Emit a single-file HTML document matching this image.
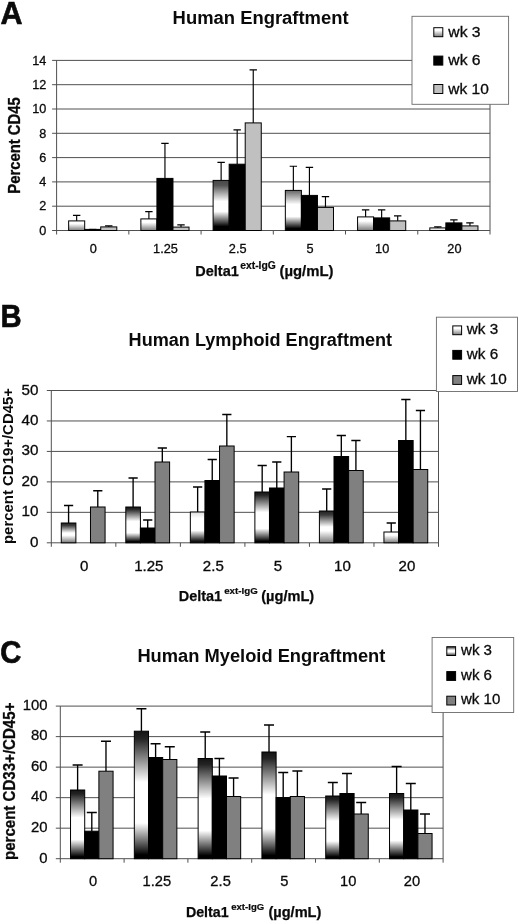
<!DOCTYPE html>
<html><head><meta charset="utf-8"><title>Figure</title>
<style>html,body{margin:0;padding:0;background:#fff}svg{display:block}</style></head>
<body>
<svg width="520" height="923" viewBox="0 0 520 923" font-family="'Liberation Sans', Arial, Helvetica, sans-serif" fill="#0a0a0a">
<defs>
<linearGradient id="gd" x1="0" y1="0" x2="0" y2="1"><stop offset="0" stop-color="#141414"/><stop offset="0.06" stop-color="#242424"/><stop offset="0.4" stop-color="#fff"/><stop offset="0.72" stop-color="#fff"/><stop offset="0.97" stop-color="#000"/><stop offset="1" stop-color="#000"/></linearGradient>
<linearGradient id="ga" x1="0" y1="0" x2="0" y2="1"><stop offset="0" stop-color="#484848"/><stop offset="0.1" stop-color="#555"/><stop offset="0.42" stop-color="#fff"/><stop offset="0.62" stop-color="#fff"/><stop offset="0.92" stop-color="#000"/><stop offset="1" stop-color="#000"/></linearGradient>
<linearGradient id="gm" x1="0" y1="0" x2="0" y2="1"><stop offset="0" stop-color="#666"/><stop offset="0.35" stop-color="#fff"/><stop offset="0.65" stop-color="#fff"/><stop offset="0.95" stop-color="#000"/><stop offset="1" stop-color="#000"/></linearGradient>
<linearGradient id="gl" x1="0" y1="0" x2="0" y2="1"><stop offset="0" stop-color="#ddd"/><stop offset="0.2" stop-color="#fff"/><stop offset="0.6" stop-color="#fff"/><stop offset="0.95" stop-color="#111"/><stop offset="1" stop-color="#111"/></linearGradient>
<linearGradient id="gg" x1="0" y1="0" x2="0" y2="1"><stop offset="0" stop-color="#222"/><stop offset="0.12" stop-color="#3a3a3a"/><stop offset="0.5" stop-color="#fff"/><stop offset="0.62" stop-color="#fff"/><stop offset="1" stop-color="#787878"/></linearGradient>
<linearGradient id="gs" x1="0" y1="0" x2="0" y2="1"><stop offset="0" stop-color="#fff"/><stop offset="0.3" stop-color="#fff"/><stop offset="1" stop-color="#7c7c7c"/></linearGradient>
<linearGradient id="gt" x1="0" y1="0" x2="0" y2="1"><stop offset="0" stop-color="#fff"/><stop offset="1" stop-color="#d8d8d8"/></linearGradient>
<linearGradient id="gw" x1="0" y1="0" x2="0" y2="1"><stop offset="0" stop-color="#222"/><stop offset="0.4" stop-color="#fff"/><stop offset="0.6" stop-color="#fff"/><stop offset="1" stop-color="#333"/></linearGradient>
</defs>
<rect width="520" height="923" fill="#fff"/>
<text transform="translate(0.50 23.80)" font-size="30.5" font-weight="bold" stroke="#0a0a0a" stroke-width="0.6">A</text>
<text transform="translate(0.50 327.00) scale(0.96 1)" font-size="30.5" font-weight="bold" stroke="#0a0a0a" stroke-width="0.6">B</text>
<text transform="translate(0.30 662.50) scale(0.96 1)" font-size="30.5" font-weight="bold" stroke="#0a0a0a" stroke-width="0.6">C</text>
<text transform="translate(172.60 23.60)" font-size="18" font-weight="bold" textLength="176" lengthAdjust="spacingAndGlyphs">Human Engraftment</text>
<text transform="translate(128.60 346.00)" font-size="18" font-weight="bold" textLength="263.5" lengthAdjust="spacingAndGlyphs">Human Lymphoid Engraftment</text>
<text transform="translate(137.40 662.30)" font-size="18" font-weight="bold" textLength="248" lengthAdjust="spacingAndGlyphs">Human Myeloid Engraftment</text>
<line x1="52.10" y1="230.50" x2="490.00" y2="230.50" stroke="#505050" stroke-width="1"/>
<text transform="translate(46.30 234.70) scale(0.975 1)" font-size="13" text-anchor="end" stroke="#0a0a0a" stroke-width="0.3">0</text>
<line x1="52.10" y1="206.20" x2="490.00" y2="206.20" stroke="#505050" stroke-width="1"/>
<text transform="translate(46.30 210.40) scale(0.975 1)" font-size="13" text-anchor="end" stroke="#0a0a0a" stroke-width="0.3">2</text>
<line x1="52.10" y1="181.90" x2="490.00" y2="181.90" stroke="#505050" stroke-width="1"/>
<text transform="translate(46.30 186.10) scale(0.975 1)" font-size="13" text-anchor="end" stroke="#0a0a0a" stroke-width="0.3">4</text>
<line x1="52.10" y1="157.60" x2="490.00" y2="157.60" stroke="#505050" stroke-width="1"/>
<text transform="translate(46.30 161.80) scale(0.975 1)" font-size="13" text-anchor="end" stroke="#0a0a0a" stroke-width="0.3">6</text>
<line x1="52.10" y1="133.30" x2="490.00" y2="133.30" stroke="#505050" stroke-width="1"/>
<text transform="translate(46.30 137.50) scale(0.975 1)" font-size="13" text-anchor="end" stroke="#0a0a0a" stroke-width="0.3">8</text>
<line x1="52.10" y1="109.00" x2="490.00" y2="109.00" stroke="#505050" stroke-width="1"/>
<text transform="translate(46.30 113.20) scale(0.975 1)" font-size="13" text-anchor="end" stroke="#0a0a0a" stroke-width="0.3">10</text>
<line x1="52.10" y1="84.70" x2="490.00" y2="84.70" stroke="#505050" stroke-width="1"/>
<text transform="translate(46.30 88.90) scale(0.975 1)" font-size="13" text-anchor="end" stroke="#0a0a0a" stroke-width="0.3">12</text>
<line x1="52.10" y1="60.40" x2="490.00" y2="60.40" stroke="#505050" stroke-width="1"/>
<text transform="translate(46.30 64.60) scale(0.975 1)" font-size="13" text-anchor="end" stroke="#0a0a0a" stroke-width="0.3">14</text>
<line x1="56.60" y1="60.40" x2="56.60" y2="234.50" stroke="#505050" stroke-width="1"/>
<line x1="490.00" y1="60.40" x2="490.00" y2="234.50" stroke="#505050" stroke-width="1"/>
<line x1="128.83" y1="230.50" x2="128.83" y2="234.50" stroke="#505050" stroke-width="1"/>
<line x1="201.07" y1="230.50" x2="201.07" y2="234.50" stroke="#505050" stroke-width="1"/>
<line x1="273.30" y1="230.50" x2="273.30" y2="234.50" stroke="#505050" stroke-width="1"/>
<line x1="345.53" y1="230.50" x2="345.53" y2="234.50" stroke="#505050" stroke-width="1"/>
<line x1="417.77" y1="230.50" x2="417.77" y2="234.50" stroke="#505050" stroke-width="1"/>
<path d="M76.66 220.90V215.40M72.96 215.40H80.36" stroke="#000" stroke-width="1.15" fill="none"/>
<rect x="68.64" y="220.90" width="16.05" height="9.60" fill="url(#gs)" stroke="#000" stroke-width="1"/>
<path d="M92.72 229.40V229.40M89.02 229.40H96.42" stroke="#000" stroke-width="1.15" fill="none"/>
<rect x="84.69" y="229.40" width="16.05" height="1.10" fill="#000" stroke="#000" stroke-width="1"/>
<path d="M108.77 226.90V225.90M105.07 225.90H112.47" stroke="#000" stroke-width="1.15" fill="none"/>
<rect x="100.74" y="226.90" width="16.05" height="3.60" fill="#c0c0c0" stroke="#000" stroke-width="1"/>
<path d="M148.90 218.90V211.60M145.20 211.60H152.60" stroke="#000" stroke-width="1.15" fill="none"/>
<rect x="140.87" y="218.90" width="16.05" height="11.60" fill="url(#gs)" stroke="#000" stroke-width="1"/>
<path d="M164.95 178.40V143.40M161.25 143.40H168.65" stroke="#000" stroke-width="1.15" fill="none"/>
<rect x="156.92" y="178.40" width="16.05" height="52.10" fill="#000" stroke="#000" stroke-width="1"/>
<path d="M181.00 227.10V224.90M177.30 224.90H184.70" stroke="#000" stroke-width="1.15" fill="none"/>
<rect x="172.98" y="227.10" width="16.05" height="3.40" fill="#c0c0c0" stroke="#000" stroke-width="1"/>
<path d="M221.13 180.40V162.40M217.43 162.40H224.83" stroke="#000" stroke-width="1.15" fill="none"/>
<rect x="213.11" y="180.40" width="16.05" height="50.10" fill="url(#ga)" stroke="#000" stroke-width="1"/>
<path d="M237.18 164.20V129.90M233.48 129.90H240.88" stroke="#000" stroke-width="1.15" fill="none"/>
<rect x="229.16" y="164.20" width="16.05" height="66.30" fill="#000" stroke="#000" stroke-width="1"/>
<path d="M253.24 122.90V69.90M249.54 69.90H256.94" stroke="#000" stroke-width="1.15" fill="none"/>
<rect x="245.21" y="122.90" width="16.05" height="107.60" fill="#c0c0c0" stroke="#000" stroke-width="1"/>
<path d="M293.36 190.40V166.20M289.66 166.20H297.06" stroke="#000" stroke-width="1.15" fill="none"/>
<rect x="285.34" y="190.40" width="16.05" height="40.10" fill="url(#gm)" stroke="#000" stroke-width="1"/>
<path d="M309.42 195.40V167.40M305.72 167.40H313.12" stroke="#000" stroke-width="1.15" fill="none"/>
<rect x="301.39" y="195.40" width="16.05" height="35.10" fill="#000" stroke="#000" stroke-width="1"/>
<path d="M325.47 207.40V196.60M321.77 196.60H329.17" stroke="#000" stroke-width="1.15" fill="none"/>
<rect x="317.44" y="207.40" width="16.05" height="23.10" fill="#c0c0c0" stroke="#000" stroke-width="1"/>
<path d="M365.60 216.90V209.90M361.90 209.90H369.30" stroke="#000" stroke-width="1.15" fill="none"/>
<rect x="357.57" y="216.90" width="16.05" height="13.60" fill="url(#gs)" stroke="#000" stroke-width="1"/>
<path d="M381.65 217.90V209.90M377.95 209.90H385.35" stroke="#000" stroke-width="1.15" fill="none"/>
<rect x="373.62" y="217.90" width="16.05" height="12.60" fill="#000" stroke="#000" stroke-width="1"/>
<path d="M397.70 220.90V215.90M394.00 215.90H401.40" stroke="#000" stroke-width="1.15" fill="none"/>
<rect x="389.68" y="220.90" width="16.05" height="9.60" fill="#c0c0c0" stroke="#000" stroke-width="1"/>
<path d="M437.83 227.90V226.90M434.13 226.90H441.53" stroke="#000" stroke-width="1.15" fill="none"/>
<rect x="429.81" y="227.90" width="16.05" height="2.60" fill="url(#gt)" stroke="#000" stroke-width="1"/>
<path d="M453.88 222.90V219.90M450.18 219.90H457.58" stroke="#000" stroke-width="1.15" fill="none"/>
<rect x="445.86" y="222.90" width="16.05" height="7.60" fill="#000" stroke="#000" stroke-width="1"/>
<path d="M469.94 225.90V222.90M466.24 222.90H473.64" stroke="#000" stroke-width="1.15" fill="none"/>
<rect x="461.91" y="225.90" width="16.05" height="4.60" fill="#c0c0c0" stroke="#000" stroke-width="1"/>
<text transform="translate(93.22 253.30) scale(0.98 1)" font-size="13" text-anchor="middle" stroke="#0a0a0a" stroke-width="0.3">0</text>
<text transform="translate(165.45 253.30) scale(0.98 1)" font-size="13" text-anchor="middle" stroke="#0a0a0a" stroke-width="0.3">1.25</text>
<text transform="translate(237.68 253.30) scale(0.98 1)" font-size="13" text-anchor="middle" stroke="#0a0a0a" stroke-width="0.3">2.5</text>
<text transform="translate(309.92 253.30) scale(0.98 1)" font-size="13" text-anchor="middle" stroke="#0a0a0a" stroke-width="0.3">5</text>
<text transform="translate(382.15 253.30) scale(0.98 1)" font-size="13" text-anchor="middle" stroke="#0a0a0a" stroke-width="0.3">10</text>
<text transform="translate(454.38 253.30) scale(0.98 1)" font-size="13" text-anchor="middle" stroke="#0a0a0a" stroke-width="0.3">20</text>
<line x1="46.80" y1="542.80" x2="438.50" y2="542.80" stroke="#505050" stroke-width="1"/>
<text transform="translate(38.40 546.80) scale(1.05 1)" font-size="14.5" text-anchor="end" stroke="#0a0a0a" stroke-width="0.3">0</text>
<line x1="46.80" y1="512.34" x2="438.50" y2="512.34" stroke="#505050" stroke-width="1"/>
<text transform="translate(38.40 516.34) scale(1.05 1)" font-size="14.5" text-anchor="end" stroke="#0a0a0a" stroke-width="0.3">10</text>
<line x1="46.80" y1="481.88" x2="438.50" y2="481.88" stroke="#505050" stroke-width="1"/>
<text transform="translate(38.40 485.88) scale(1.05 1)" font-size="14.5" text-anchor="end" stroke="#0a0a0a" stroke-width="0.3">20</text>
<line x1="46.80" y1="451.42" x2="438.50" y2="451.42" stroke="#505050" stroke-width="1"/>
<text transform="translate(38.40 455.42) scale(1.05 1)" font-size="14.5" text-anchor="end" stroke="#0a0a0a" stroke-width="0.3">30</text>
<line x1="46.80" y1="420.96" x2="438.50" y2="420.96" stroke="#505050" stroke-width="1"/>
<text transform="translate(38.40 424.96) scale(1.05 1)" font-size="14.5" text-anchor="end" stroke="#0a0a0a" stroke-width="0.3">40</text>
<line x1="46.80" y1="390.50" x2="438.50" y2="390.50" stroke="#505050" stroke-width="1"/>
<text transform="translate(38.40 394.50) scale(1.05 1)" font-size="14.5" text-anchor="end" stroke="#0a0a0a" stroke-width="0.3">50</text>
<line x1="51.30" y1="390.50" x2="51.30" y2="546.80" stroke="#505050" stroke-width="1"/>
<line x1="438.50" y1="390.50" x2="438.50" y2="546.80" stroke="#505050" stroke-width="1"/>
<line x1="115.83" y1="542.80" x2="115.83" y2="546.80" stroke="#505050" stroke-width="1"/>
<line x1="180.37" y1="542.80" x2="180.37" y2="546.80" stroke="#505050" stroke-width="1"/>
<line x1="244.90" y1="542.80" x2="244.90" y2="546.80" stroke="#505050" stroke-width="1"/>
<line x1="309.43" y1="542.80" x2="309.43" y2="546.80" stroke="#505050" stroke-width="1"/>
<line x1="373.97" y1="542.80" x2="373.97" y2="546.80" stroke="#505050" stroke-width="1"/>
<path d="M68.58 523.00V505.50M63.98 505.50H73.18" stroke="#000" stroke-width="1.35" fill="none"/>
<rect x="61.28" y="523.00" width="14.60" height="19.80" fill="url(#gg)" stroke="#000" stroke-width="1"/>
<path d="M97.78 507.00V490.70M93.18 490.70H102.38" stroke="#000" stroke-width="1.35" fill="none"/>
<rect x="90.48" y="507.00" width="14.60" height="35.80" fill="#808080" stroke="#000" stroke-width="1"/>
<path d="M133.11 507.00V478.00M128.51 478.00H137.71" stroke="#000" stroke-width="1.35" fill="none"/>
<rect x="125.81" y="507.00" width="14.60" height="35.80" fill="url(#gd)" stroke="#000" stroke-width="1"/>
<path d="M147.71 528.00V520.00M143.11 520.00H152.31" stroke="#000" stroke-width="1.35" fill="none"/>
<rect x="140.41" y="528.00" width="14.60" height="14.80" fill="#000" stroke="#000" stroke-width="1"/>
<path d="M162.31 462.00V448.00M157.71 448.00H166.91" stroke="#000" stroke-width="1.35" fill="none"/>
<rect x="155.01" y="462.00" width="14.60" height="80.80" fill="#808080" stroke="#000" stroke-width="1"/>
<path d="M197.64 512.00V487.00M193.04 487.00H202.24" stroke="#000" stroke-width="1.35" fill="none"/>
<rect x="190.34" y="512.00" width="14.60" height="30.80" fill="url(#gl)" stroke="#000" stroke-width="1"/>
<path d="M212.24 480.50V459.50M207.64 459.50H216.84" stroke="#000" stroke-width="1.35" fill="none"/>
<rect x="204.94" y="480.50" width="14.60" height="62.30" fill="#000" stroke="#000" stroke-width="1"/>
<path d="M226.84 446.00V414.50M222.24 414.50H231.44" stroke="#000" stroke-width="1.35" fill="none"/>
<rect x="219.54" y="446.00" width="14.60" height="96.80" fill="#808080" stroke="#000" stroke-width="1"/>
<path d="M262.18 492.00V465.50M257.58 465.50H266.78" stroke="#000" stroke-width="1.35" fill="none"/>
<rect x="254.88" y="492.00" width="14.60" height="50.80" fill="url(#gd)" stroke="#000" stroke-width="1"/>
<path d="M276.78 488.00V462.00M272.18 462.00H281.38" stroke="#000" stroke-width="1.35" fill="none"/>
<rect x="269.48" y="488.00" width="14.60" height="54.80" fill="#000" stroke="#000" stroke-width="1"/>
<path d="M291.38 472.00V436.60M286.78 436.60H295.98" stroke="#000" stroke-width="1.35" fill="none"/>
<rect x="284.08" y="472.00" width="14.60" height="70.80" fill="#808080" stroke="#000" stroke-width="1"/>
<path d="M326.71 511.00V489.00M322.11 489.00H331.31" stroke="#000" stroke-width="1.35" fill="none"/>
<rect x="319.41" y="511.00" width="14.60" height="31.80" fill="url(#gg)" stroke="#000" stroke-width="1"/>
<path d="M341.31 456.50V435.50M336.71 435.50H345.91" stroke="#000" stroke-width="1.35" fill="none"/>
<rect x="334.01" y="456.50" width="14.60" height="86.30" fill="#000" stroke="#000" stroke-width="1"/>
<path d="M355.91 470.50V440.50M351.31 440.50H360.51" stroke="#000" stroke-width="1.35" fill="none"/>
<rect x="348.61" y="470.50" width="14.60" height="72.30" fill="#808080" stroke="#000" stroke-width="1"/>
<path d="M391.24 532.00V523.00M386.64 523.00H395.84" stroke="#000" stroke-width="1.35" fill="none"/>
<rect x="383.94" y="532.00" width="14.60" height="10.80" fill="url(#gs)" stroke="#000" stroke-width="1"/>
<path d="M405.84 440.50V399.50M401.24 399.50H410.44" stroke="#000" stroke-width="1.35" fill="none"/>
<rect x="398.54" y="440.50" width="14.60" height="102.30" fill="#000" stroke="#000" stroke-width="1"/>
<path d="M420.44 469.50V410.50M415.84 410.50H425.04" stroke="#000" stroke-width="1.35" fill="none"/>
<rect x="413.14" y="469.50" width="14.60" height="73.30" fill="#808080" stroke="#000" stroke-width="1"/>
<text transform="translate(84.27 570.80) scale(1.04 1)" font-size="14.5" text-anchor="middle" stroke="#0a0a0a" stroke-width="0.3">0</text>
<text transform="translate(148.80 570.80) scale(1.04 1)" font-size="14.5" text-anchor="middle" stroke="#0a0a0a" stroke-width="0.3">1.25</text>
<text transform="translate(213.33 570.80) scale(1.04 1)" font-size="14.5" text-anchor="middle" stroke="#0a0a0a" stroke-width="0.3">2.5</text>
<text transform="translate(277.87 570.80) scale(1.04 1)" font-size="14.5" text-anchor="middle" stroke="#0a0a0a" stroke-width="0.3">5</text>
<text transform="translate(342.40 570.80) scale(1.04 1)" font-size="14.5" text-anchor="middle" stroke="#0a0a0a" stroke-width="0.3">10</text>
<text transform="translate(406.93 570.80) scale(1.04 1)" font-size="14.5" text-anchor="middle" stroke="#0a0a0a" stroke-width="0.3">20</text>
<line x1="55.80" y1="858.70" x2="443.10" y2="858.70" stroke="#505050" stroke-width="1"/>
<text transform="translate(47.50 862.50) scale(0.96 1)" font-size="15.5" text-anchor="end" stroke="#0a0a0a" stroke-width="0.3">0</text>
<line x1="55.80" y1="828.18" x2="443.10" y2="828.18" stroke="#505050" stroke-width="1"/>
<text transform="translate(47.50 831.98) scale(0.96 1)" font-size="15.5" text-anchor="end" stroke="#0a0a0a" stroke-width="0.3">20</text>
<line x1="55.80" y1="797.66" x2="443.10" y2="797.66" stroke="#505050" stroke-width="1"/>
<text transform="translate(47.50 801.46) scale(0.96 1)" font-size="15.5" text-anchor="end" stroke="#0a0a0a" stroke-width="0.3">40</text>
<line x1="55.80" y1="767.14" x2="443.10" y2="767.14" stroke="#505050" stroke-width="1"/>
<text transform="translate(47.50 770.94) scale(0.96 1)" font-size="15.5" text-anchor="end" stroke="#0a0a0a" stroke-width="0.3">60</text>
<line x1="55.80" y1="736.62" x2="443.10" y2="736.62" stroke="#505050" stroke-width="1"/>
<text transform="translate(47.50 740.42) scale(0.96 1)" font-size="15.5" text-anchor="end" stroke="#0a0a0a" stroke-width="0.3">80</text>
<line x1="55.80" y1="706.10" x2="443.10" y2="706.10" stroke="#505050" stroke-width="1"/>
<text transform="translate(47.50 709.90) scale(0.96 1)" font-size="15.5" text-anchor="end" stroke="#0a0a0a" stroke-width="0.3">100</text>
<line x1="60.30" y1="706.10" x2="60.30" y2="862.70" stroke="#505050" stroke-width="1"/>
<line x1="443.10" y1="706.10" x2="443.10" y2="862.70" stroke="#505050" stroke-width="1"/>
<line x1="124.10" y1="858.70" x2="124.10" y2="862.70" stroke="#505050" stroke-width="1"/>
<line x1="187.90" y1="858.70" x2="187.90" y2="862.70" stroke="#505050" stroke-width="1"/>
<line x1="251.70" y1="858.70" x2="251.70" y2="862.70" stroke="#505050" stroke-width="1"/>
<line x1="315.50" y1="858.70" x2="315.50" y2="862.70" stroke="#505050" stroke-width="1"/>
<line x1="379.30" y1="858.70" x2="379.30" y2="862.70" stroke="#505050" stroke-width="1"/>
<path d="M77.62 790.00V765.00M72.62 765.00H82.62" stroke="#000" stroke-width="1.35" fill="none"/>
<rect x="70.53" y="790.00" width="14.18" height="68.70" fill="url(#gd)" stroke="#000" stroke-width="1"/>
<path d="M91.80 831.20V812.50M86.80 812.50H96.80" stroke="#000" stroke-width="1.35" fill="none"/>
<rect x="84.71" y="831.20" width="14.18" height="27.50" fill="#000" stroke="#000" stroke-width="1"/>
<path d="M105.98 771.20V741.20M100.98 741.20H110.98" stroke="#000" stroke-width="1.35" fill="none"/>
<rect x="98.89" y="771.20" width="14.18" height="87.50" fill="#808080" stroke="#000" stroke-width="1"/>
<path d="M141.42 731.20V708.70M136.42 708.70H146.42" stroke="#000" stroke-width="1.35" fill="none"/>
<rect x="134.33" y="731.20" width="14.18" height="127.50" fill="url(#gd)" stroke="#000" stroke-width="1"/>
<path d="M155.60 757.50V743.70M150.60 743.70H160.60" stroke="#000" stroke-width="1.35" fill="none"/>
<rect x="148.51" y="757.50" width="14.18" height="101.20" fill="#000" stroke="#000" stroke-width="1"/>
<path d="M169.78 759.50V746.70M164.78 746.70H174.78" stroke="#000" stroke-width="1.35" fill="none"/>
<rect x="162.69" y="759.50" width="14.18" height="99.20" fill="#808080" stroke="#000" stroke-width="1"/>
<path d="M205.22 758.50V732.00M200.22 732.00H210.22" stroke="#000" stroke-width="1.35" fill="none"/>
<rect x="198.13" y="758.50" width="14.18" height="100.20" fill="url(#gd)" stroke="#000" stroke-width="1"/>
<path d="M219.40 776.00V758.50M214.40 758.50H224.40" stroke="#000" stroke-width="1.35" fill="none"/>
<rect x="212.31" y="776.00" width="14.18" height="82.70" fill="#000" stroke="#000" stroke-width="1"/>
<path d="M233.58 796.50V778.00M228.58 778.00H238.58" stroke="#000" stroke-width="1.35" fill="none"/>
<rect x="226.49" y="796.50" width="14.18" height="62.20" fill="#808080" stroke="#000" stroke-width="1"/>
<path d="M269.02 752.00V725.00M264.02 725.00H274.02" stroke="#000" stroke-width="1.35" fill="none"/>
<rect x="261.93" y="752.00" width="14.18" height="106.70" fill="url(#gd)" stroke="#000" stroke-width="1"/>
<path d="M283.20 797.50V772.50M278.20 772.50H288.20" stroke="#000" stroke-width="1.35" fill="none"/>
<rect x="276.11" y="797.50" width="14.18" height="61.20" fill="#000" stroke="#000" stroke-width="1"/>
<path d="M297.38 796.50V771.00M292.38 771.00H302.38" stroke="#000" stroke-width="1.35" fill="none"/>
<rect x="290.29" y="796.50" width="14.18" height="62.20" fill="#808080" stroke="#000" stroke-width="1"/>
<path d="M332.82 796.00V782.50M327.82 782.50H337.82" stroke="#000" stroke-width="1.35" fill="none"/>
<rect x="325.73" y="796.00" width="14.18" height="62.70" fill="url(#gd)" stroke="#000" stroke-width="1"/>
<path d="M347.00 793.50V773.50M342.00 773.50H352.00" stroke="#000" stroke-width="1.35" fill="none"/>
<rect x="339.91" y="793.50" width="14.18" height="65.20" fill="#000" stroke="#000" stroke-width="1"/>
<path d="M361.18 814.00V802.50M356.18 802.50H366.18" stroke="#000" stroke-width="1.35" fill="none"/>
<rect x="354.09" y="814.00" width="14.18" height="44.70" fill="#808080" stroke="#000" stroke-width="1"/>
<path d="M396.62 793.50V766.50M391.62 766.50H401.62" stroke="#000" stroke-width="1.35" fill="none"/>
<rect x="389.53" y="793.50" width="14.18" height="65.20" fill="url(#gd)" stroke="#000" stroke-width="1"/>
<path d="M410.80 810.00V783.50M405.80 783.50H415.80" stroke="#000" stroke-width="1.35" fill="none"/>
<rect x="403.71" y="810.00" width="14.18" height="48.70" fill="#000" stroke="#000" stroke-width="1"/>
<path d="M424.98 833.50V814.00M419.98 814.00H429.98" stroke="#000" stroke-width="1.35" fill="none"/>
<rect x="417.89" y="833.50" width="14.18" height="25.20" fill="#808080" stroke="#000" stroke-width="1"/>
<text transform="translate(93.00 886.20) scale(0.95 1)" font-size="15.5" text-anchor="middle" stroke="#0a0a0a" stroke-width="0.3">0</text>
<text transform="translate(156.80 886.20) scale(0.95 1)" font-size="15.5" text-anchor="middle" stroke="#0a0a0a" stroke-width="0.3">1.25</text>
<text transform="translate(220.60 886.20) scale(0.95 1)" font-size="15.5" text-anchor="middle" stroke="#0a0a0a" stroke-width="0.3">2.5</text>
<text transform="translate(284.40 886.20) scale(0.95 1)" font-size="15.5" text-anchor="middle" stroke="#0a0a0a" stroke-width="0.3">5</text>
<text transform="translate(348.20 886.20) scale(0.95 1)" font-size="15.5" text-anchor="middle" stroke="#0a0a0a" stroke-width="0.3">10</text>
<text transform="translate(412.00 886.20) scale(0.95 1)" font-size="15.5" text-anchor="middle" stroke="#0a0a0a" stroke-width="0.3">20</text>
<text transform="translate(20.00 145.50) rotate(-90)" font-size="16.5" text-anchor="middle" font-weight="bold" textLength="96.5" lengthAdjust="spacingAndGlyphs" stroke="#0a0a0a" stroke-width="0.3">Percent CD45</text>
<text transform="translate(13.40 466.00) rotate(-90)" font-size="14.8" text-anchor="middle" font-weight="bold" textLength="156" lengthAdjust="spacingAndGlyphs">percent CD19+/CD45+</text>
<text transform="translate(15.10 781.30) rotate(-90)" font-size="16.3" text-anchor="middle" font-weight="bold" textLength="157.5" lengthAdjust="spacingAndGlyphs" stroke="#0a0a0a" stroke-width="0.3">percent CD33+/CD45+</text>
<text transform="translate(195.30 275.80)" font-size="15.3" font-weight="bold" textLength="43.5" lengthAdjust="spacingAndGlyphs" stroke="#0a0a0a" stroke-width="0.25">Delta1</text>
<text transform="translate(240.30 268.70)" font-size="10.3" font-weight="bold" textLength="35.5" lengthAdjust="spacingAndGlyphs" stroke="#0a0a0a" stroke-width="0.2">ext-IgG</text>
<text transform="translate(279.50 275.80)" font-size="15.3" font-weight="bold" textLength="54" lengthAdjust="spacingAndGlyphs" stroke="#0a0a0a" stroke-width="0.25">(µg/mL)</text>
<text transform="translate(178.80 600.60)" font-size="14.9" font-weight="bold" textLength="43.3" lengthAdjust="spacingAndGlyphs" stroke="#0a0a0a" stroke-width="0.25">Delta1</text>
<text transform="translate(224.20 594.30)" font-size="9.4" font-weight="bold" textLength="33.6" lengthAdjust="spacingAndGlyphs" stroke="#0a0a0a" stroke-width="0.2">ext-IgG</text>
<text transform="translate(261.20 600.60)" font-size="14.9" font-weight="bold" textLength="53" lengthAdjust="spacingAndGlyphs" stroke="#0a0a0a" stroke-width="0.25">(µg/mL)</text>
<text transform="translate(185.90 916.60)" font-size="14.9" font-weight="bold" textLength="42.8" lengthAdjust="spacingAndGlyphs" stroke="#0a0a0a" stroke-width="0.25">Delta1</text>
<text transform="translate(231.20 909.60)" font-size="9.4" font-weight="bold" textLength="33" lengthAdjust="spacingAndGlyphs" stroke="#0a0a0a" stroke-width="0.2">ext-IgG</text>
<text transform="translate(268.40 916.60)" font-size="14.9" font-weight="bold" textLength="53" lengthAdjust="spacingAndGlyphs" stroke="#0a0a0a" stroke-width="0.25">(µg/mL)</text>
<rect x="412" y="16.3" width="96.6" height="88" fill="#fff" stroke="#6a6a6a" stroke-width="0.9"/>
<rect x="433.8" y="27.70" width="9" height="9" fill="url(#gs)" stroke="#000" stroke-width="1"/>
<text transform="translate(448.30 37.00)" font-size="15" stroke="#0a0a0a" stroke-width="0.3" textLength="32.3" lengthAdjust="spacingAndGlyphs">wk 3</text>
<rect x="433.8" y="56.10" width="9" height="9" fill="#000" stroke="#000" stroke-width="1"/>
<text transform="translate(448.30 65.30)" font-size="15" stroke="#0a0a0a" stroke-width="0.3" textLength="32.3" lengthAdjust="spacingAndGlyphs">wk 6</text>
<rect x="433.8" y="84.50" width="9" height="9" fill="#c0c0c0" stroke="#000" stroke-width="1"/>
<text transform="translate(448.30 93.60)" font-size="15" stroke="#0a0a0a" stroke-width="0.3" textLength="40.5" lengthAdjust="spacingAndGlyphs">wk 10</text>
<rect x="436.4" y="317.2" width="81.1" height="74.3" fill="#fff" stroke="#6a6a6a" stroke-width="0.9"/>
<rect x="452.8" y="325.90" width="8.8" height="8.8" fill="url(#gs)" stroke="#000" stroke-width="1"/>
<text transform="translate(466.80 334.20)" font-size="15" stroke="#0a0a0a" stroke-width="0.3" textLength="31.3" lengthAdjust="spacingAndGlyphs">wk 3</text>
<rect x="452.8" y="350.40" width="8.8" height="8.8" fill="#000" stroke="#000" stroke-width="1"/>
<text transform="translate(466.80 358.80)" font-size="15" stroke="#0a0a0a" stroke-width="0.3" textLength="31.3" lengthAdjust="spacingAndGlyphs">wk 6</text>
<rect x="452.8" y="375.60" width="8.8" height="8.8" fill="#808080" stroke="#000" stroke-width="1"/>
<text transform="translate(466.80 383.80)" font-size="15" stroke="#0a0a0a" stroke-width="0.3" textLength="40" lengthAdjust="spacingAndGlyphs">wk 10</text>
<rect x="432.1" y="637.5" width="81.6" height="75" fill="#fff" stroke="#6a6a6a" stroke-width="0.9"/>
<rect x="446.8" y="646.70" width="8.8" height="8.8" fill="url(#gw)" stroke="#000" stroke-width="1"/>
<text transform="translate(461.00 655.20)" font-size="15" stroke="#0a0a0a" stroke-width="0.3" textLength="31" lengthAdjust="spacingAndGlyphs">wk 3</text>
<rect x="446.8" y="671.60" width="8.8" height="8.8" fill="#000" stroke="#000" stroke-width="1"/>
<text transform="translate(461.00 679.80)" font-size="15" stroke="#0a0a0a" stroke-width="0.3" textLength="31" lengthAdjust="spacingAndGlyphs">wk 6</text>
<rect x="446.8" y="696.20" width="8.8" height="8.8" fill="#808080" stroke="#000" stroke-width="1"/>
<text transform="translate(461.00 704.40)" font-size="15" stroke="#0a0a0a" stroke-width="0.3" textLength="39.3" lengthAdjust="spacingAndGlyphs">wk 10</text>
</svg>
</body></html>
